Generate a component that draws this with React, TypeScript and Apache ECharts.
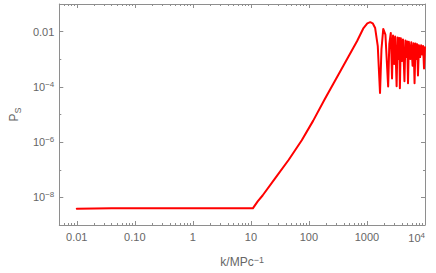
import React, { useEffect, useRef } from 'react';
import * as echarts from 'echarts';

// ---- data (k in Mpc^-1, P_S) ----
const flatK = [0.01, 0.02, 0.04, 0.1, 1, 10, 10.8];
const flatP = [3.85e-9, 3.98e-9, 4.05e-9, 4.03e-9, 4.0e-9, 4.0e-9, 4.0e-9];

const riseK = [13.1, 15.9, 26.7, 44.9, 75.3, 118.6, 186, 355, 677, 872, 1014, 1137, 1256];
const riseP = [7.2e-9, 1.17e-8, 5.2e-8, 2.3e-7, 1.17e-6, 6.0e-6, 3.5e-5, 4.0e-4, 4.6e-3, 0.0135, 0.02, 0.022, 0.02];

const oscK = [
  1384, 1535, 1679, 1778, 1909, 2080, 2317, 2427, 2573, 2704, 2812, 2944, 3062, 3243, 3373, 3508,
  3600, 3690, 3837, 4018, 4178, 4426, 4603, 4786, 4943, 5097, 5272, 5585, 5808, 6109, 6353, 6607,
  6871, 7145, 7331, 7568, 7870, 8241, 8570, 8913, 9268, 9624, 10000,
];
const oscP = [
  0.0135, 3.0e-3, 6.0e-5, 2.3e-3, 0.0125, 7.8e-3, 1.03e-4, 3.5e-3, 9.0e-3, 2.02e-4, 7.2e-3, 6.8e-4,
  6.7e-3, 1.05e-4, 6.1e-3, 1.03e-3, 5.9e-3, 9.0e-5, 5.7e-3, 8.7e-4, 5.2e-3, 1.6e-4, 4.8e-3, 1.2e-3,
  4.4e-3, 1.35e-4, 4.3e-3, 1.03e-3, 4.1e-3, 5.8e-4, 3.8e-3, 1.35e-4, 3.7e-3, 1.03e-3, 3.5e-3, 2.6e-4,
  3.2e-3, 1.2e-3, 3.2e-3, 1.5e-3, 3.0e-3, 4.6e-4, 2.7e-3,
];

// ---- axes ----
const xMin = 0.005;
const xMax = 10000;
const yMin = 1e-9;
const yMax = 0.1;

const xMajor = [0.01, 0.1, 1, 10, 100, 1000, 10000];
const xMajorLabels = ['0.01', '0.10', '1', '10', '100', '1000', '{b|10}{sup|4}'];
const xMinorDecades = [0.001, 0.01, 0.1, 1, 10, 100, 1000];
const xMinorMultipliers = [2, 3, 4, 5, 6, 7, 8, 9];

const yMajor = [1e-8, 1e-6, 1e-4, 0.01];
const yMajorLabels = ['{b|10}{sup|\u22128}', '{b|10}{sup|\u22126}', '{b|10}{sup|\u22124}', '0.01'];
const yMinor = [1e-7, 1e-5, 1e-3];

const xTitle = '{b|k/MPc}{sup|\u22121}';
const yTitle = '{b|P}{sub|S}';

const FONT = 'Liberation Sans, Arial, sans-serif';
const FRAME = '#8e8e8e';
const TEXT = '#666666';
const RED = '#ff0000';

const xMinor: number[] = [];
xMinorDecades.forEach((d) =>
  xMinorMultipliers.forEach((m) => {
    const v = m * d;
    if (v > xMin * 1.0001 && v < xMax) xMinor.push(v);
  })
);

const lookup = (vals: number[], labels: string[]) => (v: number) => {
  const i = vals.findIndex((t) => Math.abs(Math.log10(t) - Math.log10(v)) < 1e-6);
  return i >= 0 ? labels[i] : '';
};

const rich = {
  b: { fontSize: 11, color: TEXT, fontFamily: FONT, lineHeight: 13 },
  sup: { fontSize: 8, color: TEXT, fontFamily: FONT, verticalAlign: 'top', lineHeight: 8 },
};

function xAxisDef(position: 'top' | 'bottom', major: boolean, withLabels: boolean) {
  return {
    type: 'log',
    logBase: 10,
    min: xMin,
    max: xMax,
    position,
    axisLine: { show: major, lineStyle: { color: FRAME, width: 1 } },
    axisTick: {
      show: true,
      inside: true,
      length: major ? 4 : 2,
      customValues: major ? xMajor : xMinor,
      lineStyle: { color: FRAME, width: 1 },
    },
    axisLabel: withLabels
      ? {
          show: true,
          customValues: xMajor,
          formatter: lookup(xMajor, xMajorLabels),
          fontSize: 11,
          color: TEXT,
          fontFamily: FONT,
          margin: 6,
          alignMaxLabel: 'right',
          rich,
        }
      : { show: false },
    splitLine: { show: false },
    minorTick: { show: false },
    ...(withLabels
      ? {
          name: xTitle,
          nameLocation: 'middle',
          nameGap: 30,
          nameTextStyle: {
            rich: {
              b: { fontSize: 12, color: TEXT, fontFamily: FONT, lineHeight: 14 },
              sup: { fontSize: 9, color: TEXT, fontFamily: FONT, verticalAlign: 'top', lineHeight: 9 },
            },
          },
        }
      : {}),
  };
}

function yAxisDef(position: 'left' | 'right', major: boolean, withLabels: boolean) {
  return {
    type: 'log',
    logBase: 10,
    min: yMin,
    max: yMax,
    position,
    axisLine: { show: major, lineStyle: { color: FRAME, width: 1 } },
    axisTick: {
      show: true,
      inside: true,
      length: major ? 4 : 2,
      customValues: major ? yMajor : yMinor,
      lineStyle: { color: FRAME, width: 1 },
    },
    axisLabel: withLabels
      ? {
          show: true,
          customValues: yMajor,
          formatter: lookup(yMajor, yMajorLabels),
          fontSize: 11,
          color: TEXT,
          fontFamily: FONT,
          margin: 5,
          rich,
        }
      : { show: false },
    splitLine: { show: false },
    minorTick: { show: false },
    ...(withLabels
      ? {
          name: yTitle,
          nameLocation: 'middle',
          nameGap: 34,
          nameRotate: 90,
          nameTextStyle: {
            rich: {
              b: { fontSize: 12, color: TEXT, fontFamily: FONT, lineHeight: 14, verticalAlign: 'top' },
              sub: { fontSize: 9, color: TEXT, fontFamily: FONT, lineHeight: 14, verticalAlign: 'bottom', padding: [4, 0, 0, 0] },
            },
          },
        }
      : {}),
  };
}

const curve: [number, number][] = [
  ...flatK.map((k, i) => [k, flatP[i]] as [number, number]),
  ...riseK.map((k, i) => [k, riseP[i]] as [number, number]),
  ...oscK.map((k, i) => [k, oscP[i]] as [number, number]),
];

const option = {
  animation: false,
  backgroundColor: '#ffffff',
  textStyle: { fontFamily: FONT },
  grid: { left: 52, right: 11, top: 4, bottom: 43.5, containLabel: false },
  xAxis: [
    xAxisDef('bottom', true, true),
    xAxisDef('bottom', false, false),
    xAxisDef('top', true, false),
    xAxisDef('top', false, false),
  ],
  yAxis: [
    yAxisDef('left', true, true),
    yAxisDef('left', false, false),
    yAxisDef('right', true, false),
    yAxisDef('right', false, false),
  ],
  series: [
    {
      type: 'line',
      xAxisIndex: 0,
      yAxisIndex: 0,
      data: curve,
      showSymbol: false,
      symbol: 'none',
      clip: true,
      lineStyle: { color: RED, width: 2, join: 'round', cap: 'round' },
      itemStyle: { color: RED },
    },
  ],
};

export default function App() {
  const ref = useRef<HTMLDivElement>(null);
  useEffect(() => {
    if (!ref.current) return;
    const chart = echarts.init(ref.current, null, { renderer: 'svg' });
    chart.setOption(option as any);
    return () => chart.dispose();
  }, []);
  return (
    <div
      ref={ref}
      style={{ position: 'absolute', left: 0, top: 0, width: 436, height: 273, background: '#fff' }}
    />
  );
}
